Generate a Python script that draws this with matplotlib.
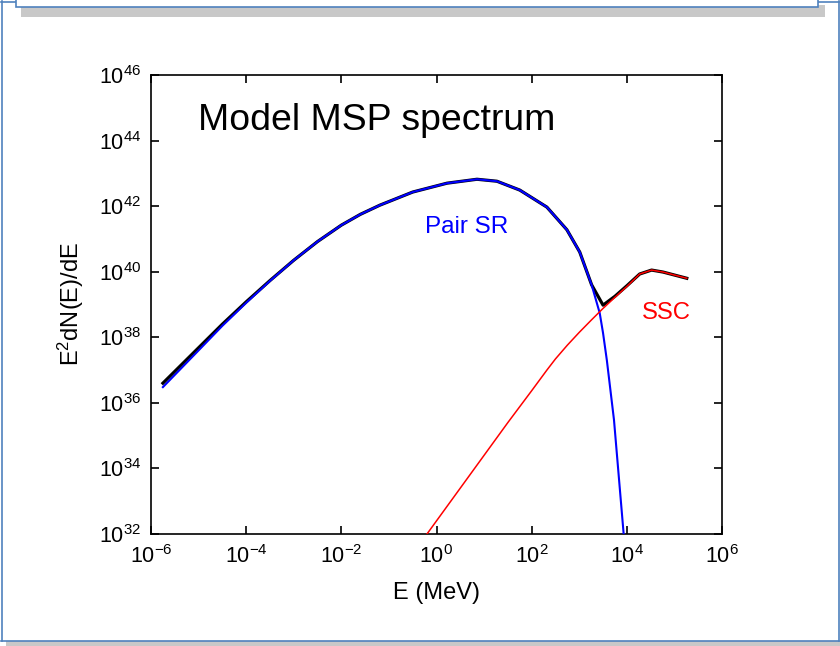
import numpy as np
import matplotlib
matplotlib.use("Agg")
import matplotlib.pyplot as plt
from matplotlib.patches import Rectangle
from matplotlib.lines import Line2D

plt.rcParams['font.family'] = ['Liberation Sans', 'DejaVu Sans']
plt.rcParams['mathtext.fontset'] = 'custom'
plt.rcParams['mathtext.rm'] = 'Liberation Sans'
plt.rcParams['mathtext.it'] = 'Liberation Sans'
plt.rcParams['mathtext.default'] = 'regular'

# ---- data (log10 values) ----
blue_logE = [-5.75, -5.0, -4.5, -4.0, -3.5, -3.0, -2.5, -2.0, -1.6, -1.19, -0.5, 0.22, 0.85,
             1.27, 1.75, 2.32, 2.74, 3.01, 3.26, 3.43, 3.50, 3.58, 3.73, 3.98]
blue_logF = [36.48, 37.60, 38.35, 39.05, 39.72, 40.35, 40.92, 41.42, 41.75, 42.03, 42.43, 42.70, 42.82,
             42.76, 42.49, 41.97, 41.28, 40.60, 39.60, 38.74, 38.13, 37.30, 35.48, 31.20]

black_logE = [-5.75, -5.0, -4.5, -4.0, -3.5, -3.0, -2.5, -2.0, -1.6, -1.19, -0.5, 0.22, 0.85,
              1.27, 1.75, 2.32, 2.74, 3.01, 3.26, 3.50, 3.75, 4.0, 4.27, 4.52, 4.76, 5.26]
black_logF = [36.60, 37.68, 38.40, 39.08, 39.73, 40.35, 40.92, 41.42, 41.75, 42.03, 42.43, 42.70, 42.82,
              42.76, 42.49, 41.97, 41.28, 40.60, 39.60, 38.98, 39.25, 39.57, 39.93, 40.05, 39.99, 39.80]

red_logE = [-0.3, 0.5, 1.0, 1.5, 2.0, 2.32, 2.5, 2.75, 3.0, 3.25, 3.5, 3.75, 4.0, 4.27, 4.52, 4.76, 5.26]
red_logF = [31.8, 33.4, 34.4, 35.4, 36.37, 37.0, 37.34, 37.76, 38.15, 38.52, 38.88, 39.22, 39.55,
            39.93, 40.05, 39.99, 39.80]

xtick_exp = [-6, -4, -2, 0, 2, 4, 6]
ytick_exp = [32, 34, 36, 38, 40, 42, 44, 46]

W, H = 840, 646
fig = plt.figure(figsize=(W / 100, H / 100), dpi=100)

def fx(px):
    return px / W

def fy(py):
    return 1 - py / H

frame_blue = '#4F81BD'
shadow = '#C8C8C8'

# outer frame shadow
fig.patches.append(Rectangle((fx(6), fy(646)), fx(834), 5 / H, transform=fig.transFigure,
                             facecolor=shadow, edgecolor='none', zorder=0))
# outer frame lines
for xs, ys in [([1.5, 1.5], [1, 640.5]), ([1, 838.5], [640.5, 640.5]), ([838.5, 838.5], [1, 640.5]),
               ([1, 16], [1.5, 1.5]), ([818, 838.5], [1.5, 1.5])]:
    fig.lines.append(Line2D([fx(v) for v in xs], [fy(v) for v in ys], transform=fig.transFigure,
                            color=frame_blue, lw=1.2, zorder=1))
# top box shadow and box
fig.patches.append(Rectangle((fx(21), fy(17)), fx(804), 12 / H, transform=fig.transFigure,
                             facecolor=shadow, edgecolor='none', zorder=0))
fig.patches.append(Rectangle((fx(16), fy(7)), fx(802), 20 / H, transform=fig.transFigure,
                             facecolor='white', edgecolor=frame_blue, lw=1.2, zorder=1))

ax = fig.add_axes([151 / W, 1 - 534 / H, 571 / W, 459 / H])

E_b = 10.0 ** np.array(blue_logE)
F_b = 10.0 ** np.array(blue_logF)
E_k = 10.0 ** np.array(black_logE)
F_k = 10.0 ** np.array(black_logF)
E_r = 10.0 ** np.array(red_logE)
F_r = 10.0 ** np.array(red_logF)

ax.plot(E_k, F_k, color='black', lw=2.3, zorder=2, solid_joinstyle='round')
ax.plot(E_b, F_b, color='#0000FF', lw=1.5, zorder=3, solid_joinstyle='round')
ax.plot(E_r, F_r, color='#FF0000', lw=1.1, zorder=4, solid_joinstyle='round')

ax.set_xscale('log')
ax.set_yscale('log')
ax.set_xlim(1e-6, 1e6)
ax.set_ylim(1e32, 1e46)

ax.set_xticks([10.0 ** e for e in xtick_exp])
ax.set_xticklabels([r'$10^{%d}$' % e for e in xtick_exp])
ax.set_yticks([10.0 ** e for e in ytick_exp])
ax.set_yticklabels([r'$10^{%d}$' % e for e in ytick_exp])
ax.minorticks_off()
ax.tick_params(which='major', direction='in', length=6, width=1.2, top=True, right=True,
               labelsize=15.5, colors='black')
ax.tick_params(axis='x', pad=8)
ax.tick_params(axis='y', pad=7)
for s in ax.spines.values():
    s.set_linewidth(1.2)

ax.set_xlabel('E (MeV)', fontsize=17)
ax.set_ylabel(r'E$^{2}$dN(E)/dE', fontsize=17)
ax.xaxis.set_label_coords(0.5, -0.104)
ax.yaxis.set_label_coords(-0.113, 0.5)

ax.text(0.082, 0.901, 'Model MSP spectrum', transform=ax.transAxes, fontsize=26.9,
        ha='left', va='center', color='black')
ax.text(10 ** 0.63, 10 ** 41.37, 'Pair SR', fontsize=17.5, color='#0000FF', ha='center', va='center')
ax.text(10 ** 4.83, 10 ** 38.75, 'SSC', fontsize=17.2, color='#FF0000', ha='center', va='center')

fig.savefig('out.png', dpi=100)
